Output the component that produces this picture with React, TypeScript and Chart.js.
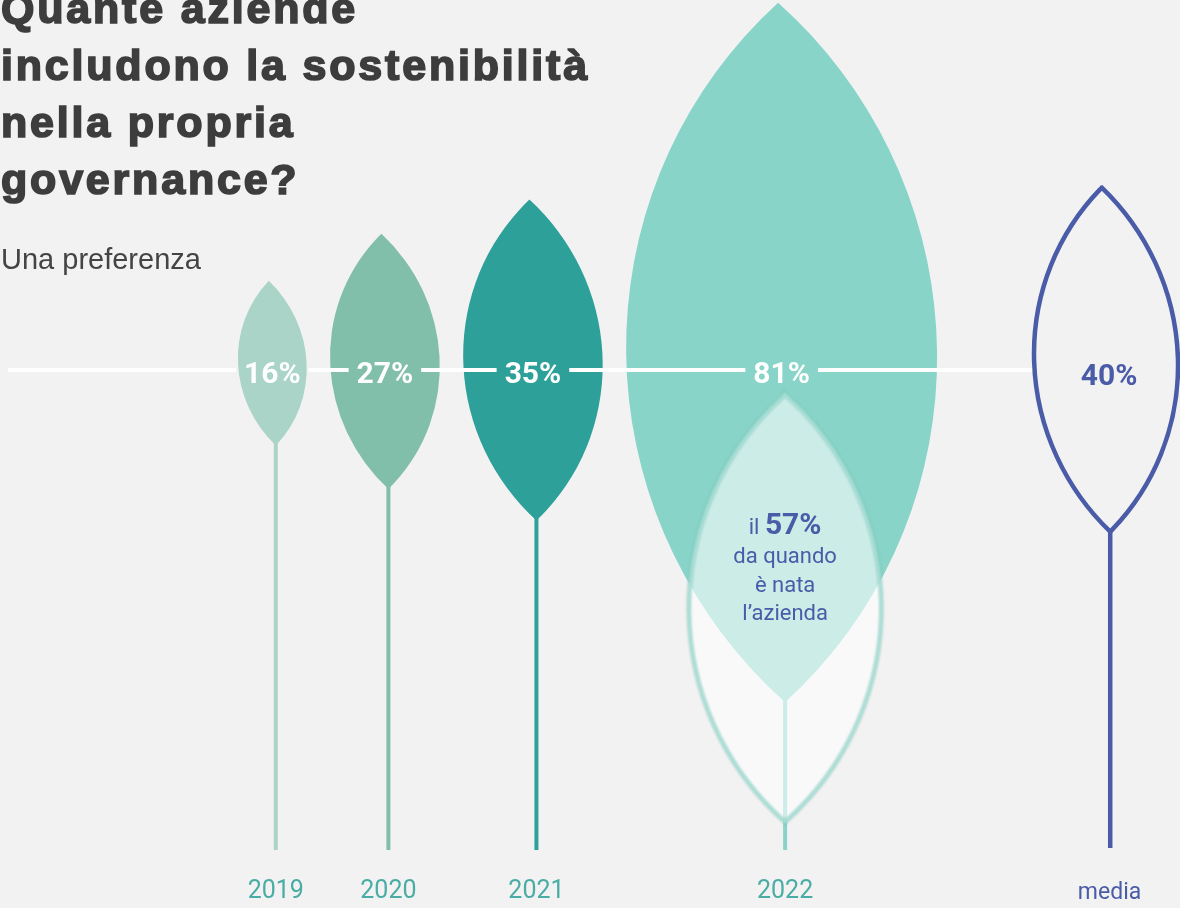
import React, { useEffect, useRef } from 'react';
import { Chart, registerables } from 'chart.js';

Chart.register(...registerables);

// ---------- data ----------
const titleLines = ['Quante aziende', 'includono la sostenibilità', 'nella propria', 'governance?'];
const subtitle = 'Una preferenza';
const years = ['2019', '2020', '2021', '2022'];
const shares = [16, 27, 35, 81];
const averageLabel = 'media';
const averageShare = 40;
const foundingShare = 57;
const foundingPrefix = 'il';
const foundingLines = ['da quando', 'è nata', 'l’azienda'];

// ---------- styles ----------
const leafColors = ['#a9d4c7', '#82bfaa', '#2ea09a', '#88d4c8'];
const BLUE = '#4a5ba8';
const YEAR_COLOR = '#4aada5';
const BG = '#f2f2f2';
const W = 1180;
const H = 908;

// ---------- layout helpers (chart units = px) ----------
const leafHeight = (v: number) => 33 + 8.23 * v;
const leafWidth = (h: number) => 0.453 * h - 6;
const leafCenterY = (h: number) => 366.5 - 0.02 * h;
const LINE_Y = 370;
const STEM_END = 850;
const LABEL_Y = 898;
const FIRST_LEFT = 238;
const GAP = 23.5;
const AVG_GAP = 97;
const TIP_SHIFT = 3.5;

function buildLayout() {
  let left = FIRST_LEFT;
  const pts = shares.map((v) => {
    const h = leafHeight(v);
    const w = leafWidth(h);
    const p = { x: left + w / 2, y: leafCenterY(h), v, w, h };
    left += w + GAP;
    return p;
  });
  const last = pts[pts.length - 1];
  const ah = leafHeight(averageShare) * 0.95;
  const aw = leafWidth(ah) * 0.96;
  const avg = { x: last.x + last.w / 2 + AVG_GAP + aw / 2, y: leafCenterY(ah), v: averageShare, w: aw, h: ah };
  const fh = 7.5 * foundingShare;
  const fw = 0.45 * fh;
  const f = { x: last.x + TIP_SHIFT, y: STEM_END - 28 - fh / 2, v: foundingShare, w: fw, h: fh };
  return { pts, avg, f };
}

function lensPath(ctx: CanvasRenderingContext2D, cx: number, cy: number, w: number, h: number, shift: number) {
  const a = h / 2;
  const s = w / 2;
  const R = (a * a + s * s) / (2 * s);
  const off = R - s;
  const phi = Math.asin(Math.min(1, a / R));
  ctx.save();
  ctx.translate(cx, cy);
  ctx.transform(1, 0, shift / a, 1, 0, 0);
  ctx.beginPath();
  ctx.arc(-off, 0, R, -phi, phi, false);
  ctx.arc(off, 0, R, Math.PI - phi, Math.PI + phi, false);
  ctx.closePath();
  ctx.restore();
}

const leafPlugin = {
  id: 'leaves',
  afterDatasetsDraw(chart: any) {
    const ctx: CanvasRenderingContext2D = chart.ctx;
    const xs = chart.scales.x;
    const ys = chart.scales.y;
    const dx = (d: number) => xs.getPixelForValue(d) - xs.getPixelForValue(0);
    const dy = (d: number) => ys.getPixelForValue(d) - ys.getPixelForValue(0);

    const yearMeta = chart.getDatasetMeta(0);
    const avgMeta = chart.getDatasetMeta(1);
    const fMeta = chart.getDatasetMeta(2);
    const yearRaw = chart.data.datasets[0].data;
    const avgRaw = chart.data.datasets[1].data[0];
    const fRaw = chart.data.datasets[2].data[0];

    const stemEnd = ys.getPixelForValue(STEM_END);
    const shift = dx(TIP_SHIFT);

    ctx.save();
    // stems
    ctx.lineCap = 'butt';
    yearMeta.data.forEach((el: any, i: number) => {
      ctx.strokeStyle = leafColors[i];
      ctx.lineWidth = 4;
      ctx.beginPath();
      ctx.moveTo(el.x + shift, el.y);
      ctx.lineTo(el.x + shift, stemEnd);
      ctx.stroke();
    });
    // leaves
    yearMeta.data.forEach((el: any, i: number) => {
      const r = yearRaw[i];
      lensPath(ctx, el.x, el.y, dx(r.w), dy(r.h), shift);
      ctx.fillStyle = leafColors[i];
      ctx.fill();
    });

    // founding overlay leaf
    const fe = fMeta.data[0];
    const fw = dx(fRaw.w);
    const fh = dy(fRaw.h);
    lensPath(ctx, fe.x, fe.y, fw, fh, 0);
    ctx.fillStyle = 'rgba(255,255,255,0.56)';
    ctx.fill();
    ctx.save();
    (ctx as any).filter = 'blur(1px)';
    ctx.strokeStyle = 'rgba(70,140,128,0.2)';
    ctx.lineWidth = 5;
    ctx.stroke();
    ctx.strokeStyle = '#a3ded4';
    ctx.lineWidth = 3.2;
    ctx.stroke();
    ctx.restore();

    // average leaf (outline)
    const ae = avgMeta.data[0];
    const aw = dx(avgRaw.w);
    const ah = dy(avgRaw.h);
    ctx.strokeStyle = BLUE;
    ctx.lineWidth = 4.5;
    ctx.beginPath();
    ctx.moveTo(ae.x + shift * 1.2, ae.y + ah / 2);
    ctx.lineTo(ae.x + shift * 1.2, ys.getPixelForValue(STEM_END - 2));
    ctx.stroke();
    lensPath(ctx, ae.x, ae.y, aw, ah, shift * 1.2);
    ctx.lineJoin = 'miter';
    ctx.stroke();

    // labels + line
    const lineY = ys.getPixelForValue(LINE_Y);
    ctx.font = 'bold 30px Roboto';
    ctx.textAlign = 'center';
    ctx.textBaseline = 'alphabetic';
    const gaps: [number, number][] = [];
    yearMeta.data.forEach((el: any, i: number) => {
      const t = `${shares[i]}%`;
      const tw = ctx.measureText(t).width;
      gaps.push([el.x - tw / 2 - 8, el.x + tw / 2 + 8]);
    });
    const lineStart = xs.getPixelForValue(8);
    const lineEnd = ae.x - aw / 2 - 2;
    ctx.fillStyle = '#ffffff';
    let cur = lineStart;
    gaps.forEach(([a, b]) => {
      if (a > cur) ctx.fillRect(cur, lineY - 2, a - cur, 4);
      cur = b;
    });
    if (lineEnd > cur) ctx.fillRect(cur, lineY - 2, lineEnd - cur, 4);

    yearMeta.data.forEach((el: any, i: number) => {
      ctx.fillStyle = '#ffffff';
      ctx.fillText(`${shares[i]}%`, el.x, lineY + 13);
    });
    ctx.fillStyle = BLUE;
    ctx.fillText(`${averageShare}%`, ae.x + 3, lineY + 15);

    // founding text
    ctx.fillStyle = BLUE;
    ctx.font = '22px Roboto';
    const pre = foundingPrefix + ' ';
    const preW = ctx.measureText(pre).width;
    ctx.font = 'bold 30px Roboto';
    const numT = `${foundingShare}%`;
    const numW = ctx.measureText(numT).width;
    const startX = fe.x - (preW + numW) / 2;
    const topBase = fe.y - 74;
    ctx.textAlign = 'left';
    ctx.font = '22px Roboto';
    ctx.fillText(pre, startX, topBase);
    ctx.font = 'bold 30px Roboto';
    ctx.fillText(numT, startX + preW, topBase);
    ctx.textAlign = 'center';
    ctx.font = '22px Roboto';
    foundingLines.forEach((l, i) => {
      ctx.fillText(l, fe.x, topBase + 29 * (i + 1) - (i === 2 ? 1 : 0));
    });

    // year labels
    const labY = ys.getPixelForValue(LABEL_Y);
    ctx.font = '25px Roboto';
    ctx.fillStyle = YEAR_COLOR;
    yearMeta.data.forEach((el: any, i: number) => {
      ctx.fillText(years[i], el.x + shift, labY);
    });
    ctx.font = '23px Roboto';
    ctx.fillStyle = BLUE;
    ctx.fillText(averageLabel, ae.x + shift, labY + 1);
    ctx.restore();
  },
};

export default function App() {
  const canvasRef = useRef<HTMLCanvasElement | null>(null);

  useEffect(() => {
    if (!canvasRef.current) return;
    const { pts, avg, f } = buildLayout();
    const chart = new Chart(canvasRef.current, {
      type: 'scatter',
      data: {
        datasets: [
          { label: 'anni', data: pts as any, pointRadius: 0, showLine: false },
          { label: averageLabel, data: [avg] as any, pointRadius: 0, showLine: false },
          { label: 'da quando è nata', data: [f] as any, pointRadius: 0, showLine: false },
        ],
      },
      options: {
        animation: false,
        responsive: true,
        maintainAspectRatio: false,
        events: [],
        layout: { padding: 0 },
        scales: {
          x: { type: 'linear', min: 0, max: W, display: false },
          y: { type: 'linear', min: 0, max: H, reverse: true, display: false },
        },
        plugins: { legend: { display: false }, tooltip: { enabled: false }, title: { display: false } },
      },
      plugins: [leafPlugin],
    });
    return () => chart.destroy();
  }, []);

  return (
    <div style={{ position: 'fixed', left: 0, top: 0, width: W, height: H, background: BG, overflow: 'hidden' }}>
      <div style={{ position: 'absolute', left: 0, top: 0, width: W, height: H }}>
        <canvas ref={canvasRef} />
      </div>
      <div
        style={{
          position: 'absolute',
          left: 1,
          top: -20,
          fontFamily: '"Liberation Sans", Arial, sans-serif',
          fontWeight: 700,
          fontSize: 43,
          lineHeight: '57px',
          letterSpacing: '2.8px',
          color: '#3d3d3d',
          WebkitTextStroke: '1.7px #3d3d3d',
          whiteSpace: 'nowrap',
        }}
      >
        {titleLines.map((l, i) => (
          <div key={i}>{l}</div>
        ))}
      </div>
      <div
        style={{
          position: 'absolute',
          left: 1,
          top: 245,
          fontFamily: '"Liberation Sans", Arial, sans-serif',
          fontSize: 29,
          lineHeight: '29px',
          color: '#444444',
          whiteSpace: 'nowrap',
        }}
      >
        {subtitle}
      </div>
    </div>
  );
}
